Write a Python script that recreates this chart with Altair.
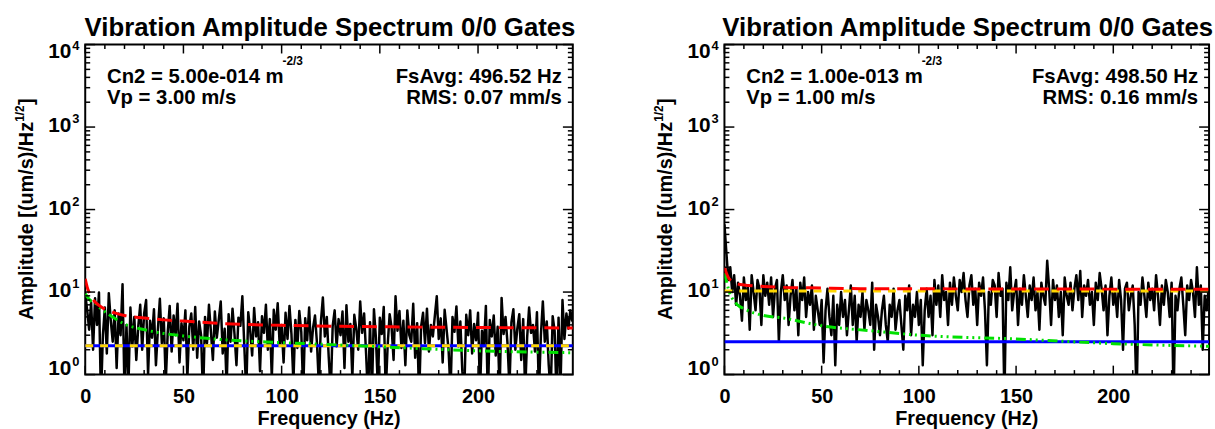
import altair as alt
import numpy as np
import pandas as pd

FONT = "Liberation Sans"

# ---------------- data ----------------
TITLE = "Vibration Amplitude Spectrum 0/0 Gates"
X_TITLE = "Frequency (Hz)"

L_FMAX = 248.26
R_FMAX = 249.25

# measured spectra, 1 Hz bins starting at 0 Hz
L_AMP = [
    9.5, 6.0, 3.5, 7.5, 2.0, 8.4, 4.0, 9.9, 0.5, 3.0,
    6.5, 1.8, 9.7, 4.5, 2.5, 6.0, 1.2, 5.5, 3.0, 12.4,
    0.6, 4.0, 0.7, 6.5, 2.2, 5.0, 1.5, 3.8, 7.0, 2.0,
    5.5, 8.0, 1.0, 4.5, 2.8, 6.2, 1.3, 3.5, 8.3, 2.4,
    4.8, 0.8, 3.2, 6.8, 1.9, 5.2, 3.0, 7.2, 1.4, 4.2,
    2.6, 6.0, 0.9, 3.8, 5.5, 2.0, 6.6, 1.6, 4.4, 3.0,
    0.5, 5.0, 2.4, 7.0, 3.3, 1.5, 5.8, 2.8, 4.6, 7.7,
    1.8, 3.6, 0.7, 5.4, 2.5, 6.3, 3.1, 1.3, 4.9, 3.9,
    8.9, 2.2, 0.6, 5.7, 3.4, 1.7, 6.4, 2.9, 4.3, 1.1,
    5.1, 3.2, 7.0, 2.0, 4.7, 0.9, 6.1, 3.5, 7.3, 2.3,
    4.0, 1.4, 5.6, 2.7, 6.8, 3.1, 0.8, 4.6, 2.1, 5.9,
    3.3, 0.6, 4.8, 2.6, 6.5, 1.9, 3.7, 5.2, 2.4, 0.7,
    4.4, 8.6, 2.9, 5.0, 1.6, 0.6, 3.9, 6.0, 2.2, 4.7,
    3.0, 5.8, 1.2, 6.9, 2.5, 4.1, 0.9, 5.3, 3.6, 2.0,
    7.7, 3.2, 5.5, 1.8, 0.5, 4.3, 0.6, 6.2, 2.8, 0.7,
    4.9, 3.1, 6.6, 0.6, 2.3, 5.4, 3.7, 1.5, 8.9, 3.4,
    5.9, 2.1, 4.5, 1.3, 6.0, 3.0, 2.5, 7.2, 1.6, 4.2,
    0.5, 3.8, 5.6, 2.4, 6.3, 1.9, 4.0, 2.9, 5.1, 8.9,
    2.7, 4.8, 1.4, 6.1, 3.5, 2.0, 0.6, 5.0, 3.3, 6.7,
    2.2, 4.4, 1.1, 0.6, 5.3, 3.0, 6.0, 1.8, 4.1, 2.6,
    5.6, 0.6, 3.4, 2.2, 6.8, 0.5, 4.6, 2.9, 5.2, 1.7,
    3.8, 0.6, 8.5, 3.1, 5.0, 2.4, 0.7, 4.3, 6.2, 2.0,
    3.6, 5.4, 1.5, 4.7, 0.6, 2.8, 6.5, 3.2, 4.0, 1.9,
    5.7, 0.6, 3.0, 7.7, 2.5, 4.4, 1.3, 0.6, 5.1, 3.4,
    0.5, 4.9, 0.7, 8.0, 2.7, 5.5, 3.6, 6.0, 4.4,
]

R_AMP = [
    66, 30, 14, 20, 10, 16, 7, 13, 9, 4.5,
    15, 8, 12, 3.5, 16, 10, 6, 14, 11, 4,
    16, 9, 13, 7, 15, 5, 11, 14, 2.5, 10,
    16, 8, 12, 4, 9, 14, 6, 11, 3, 13,
    8, 15, 5, 10, 7, 12, 3.5, 9, 6, 4,
    8, 1.4, 6, 11, 5, 3, 9, 1.3, 7, 4,
    10, 5, 8, 3, 6, 12, 4, 9, 2.5, 7,
    5, 10, 3.5, 8, 6, 4, 13, 2, 7, 5,
    3, 6, 9, 4, 2.5, 7, 5, 11, 3.5, 6,
    8, 4, 2, 9, 6, 12, 3, 7, 5, 10,
    4, 8, 1.3, 6, 11, 5, 9, 3, 14, 7,
    12, 5, 16, 8, 10, 4, 13, 7, 15, 9,
    6, 14, 10, 17, 8, 5, 12, 16, 7, 11,
    4, 13, 9, 15, 6, 1.3, 10, 7, 14, 12,
    5, 17, 9, 11, 0.5, 13, 8, 20, 6, 10,
    14, 4, 11, 7, 16, 9, 5, 12, 8, 15,
    6, 10, 3.5, 13, 9, 7, 24, 11, 4, 14,
    8, 12, 5, 10, 3, 15, 9, 7, 13, 6,
    11, 16, 8, 18, 5, 12, 9, 14, 7, 10,
    4, 13, 8, 17, 11, 6, 12, 3, 9, 15,
    7, 10, 5, 14, 8, 2, 11, 13, 6, 9,
    12, 4, 0.5, 10, 7, 15, 9, 5, 13, 8,
    11, 6, 16, 9, 4, 12, 7, 14, 10, 5,
    13, 0.5, 9, 6, 11, 15, 7, 3, 12, 8,
    14, 10, 5, 20, 7, 12, 2, 9, 6, 11,
]

# model curves (frequency, amplitude)
L_RED_F = [0, 1, 2, 3, 5, 7, 10, 15, 20, 30, 40, 50, 70, 100, 130, 160, 200, 248.26]
L_RED_V = [14.5, 11.5, 9.9, 8.8, 7.6, 6.9, 6.2, 5.6, 5.2, 4.85, 4.6, 4.45, 4.15, 3.95, 3.85, 3.78, 3.72, 3.67]
L_GREEN_F = [0, 1, 2, 3, 5, 7, 10, 15, 20, 30, 40, 50, 70, 100, 130, 160, 200, 248.26]
L_GREEN_V = [9.5, 8.8, 8.2, 7.8, 7.4, 6.6, 5.8, 4.8, 4.1, 3.5, 3.15, 2.94, 2.65, 2.44, 2.28, 2.12, 1.94, 1.84]
L_YELLOW = 2.23
L_BLUE = 2.23

R_RED_F = [0, 1, 2, 3, 5, 7, 10, 15, 20, 30, 50, 70, 100, 150, 200, 249.25]
R_RED_V = [20, 17, 15, 14, 13, 12.5, 12.2, 11.9, 11.7, 11.4, 11.2, 11.0, 10.95, 10.9, 10.85, 10.8]
R_GREEN_F = [0, 1, 2, 3, 5, 7, 10, 15, 20, 30, 50, 75, 100, 150, 200, 249.25]
R_GREEN_V = [17, 13.5, 11, 9.3, 7.8, 6.9, 6.3, 5.6, 5.2, 4.85, 3.9, 3.4, 3.0, 2.7, 2.37, 2.2]
R_YELLOW = 10.3
R_BLUE = 2.5

L_TEXT = ["Cn2 = 5.00e-014 m", "-2/3", "Vp = 3.00 m/s", "FsAvg: 496.52 Hz", "RMS: 0.07 mm/s"]
R_TEXT = ["Cn2 = 1.00e-013 m", "-2/3", "Vp = 1.00 m/s", "FsAvg: 498.50 Hz", "RMS: 0.16 mm/s"]

X_MAJOR = [0, 50, 100, 150, 200]
X_MINOR = [10, 20, 30, 40, 60, 70, 80, 90, 110, 120, 130, 140, 160, 170, 180, 190, 210, 220, 230, 240]
Y_MAJOR = [1, 10, 100, 1000, 10000]
Y_MINOR = [m * 10 ** k for k in range(4) for m in range(2, 10)]
Y_EXP = ["0", "1", "2", "3", "4"]

H = 333


def panel(amp, fmax, red_f, red_v, green_f, green_v, yellow_v, blue_v, texts, W):
    xs = alt.Scale(domain=[0, fmax], nice=False, zero=False)
    ys = alt.Scale(type="log", domain=[1, 10000], nice=False)
    xaxis = alt.Axis(values=X_MAJOR, title=None, ticks=False, domain=False, grid=False,
                     labelFont=FONT, labelFontSize=20, labelFontWeight="bold", labelColor="black",
                     labelPadding=12, labelFlush=False, labelOverlap=False)
    X = alt.X("f:Q", scale=xs, axis=xaxis)
    Y = alt.Y("a:Q", scale=ys, axis=None)

    spec = pd.DataFrame({"f": np.arange(len(amp)), "a": amp})
    black = alt.Chart(spec).mark_line(color="black", strokeWidth=2.5, clip=True,
                                      strokeJoin="round").encode(x=X, y=Y)
    blue = alt.Chart(pd.DataFrame({"f": [0, fmax], "a": [blue_v, blue_v]})).mark_line(
        color="#0000ff", strokeWidth=3, clip=True).encode(x=X, y=Y)
    yellow = alt.Chart(pd.DataFrame({"f": [0, fmax], "a": [yellow_v, yellow_v]})).mark_line(
        color="#ffd700", strokeWidth=3, strokeDash=[8, 7], clip=True).encode(x=X, y=Y)
    green = alt.Chart(pd.DataFrame({"f": green_f, "a": green_v})).mark_line(
        color="#00e000", strokeWidth=3, strokeDash=[10, 4, 2, 4, 2, 4, 2, 4], clip=True,
        interpolate="monotone").encode(x=X, y=Y)
    red = alt.Chart(pd.DataFrame({"f": red_f, "a": red_v})).mark_line(
        color="#ff0000", strokeWidth=3, strokeDash=[15, 8], clip=True,
        interpolate="monotone").encode(x=X, y=Y)

    # inward ticks
    ymaj = pd.DataFrame({"a": Y_MAJOR})
    ymin = pd.DataFrame({"a": Y_MINOR})
    xmaj = pd.DataFrame({"f": X_MAJOR})
    xmin = pd.DataFrame({"f": X_MINOR})
    rk = dict(color="black", strokeWidth=1.5)
    ticks = [
        alt.Chart(ymaj).mark_rule(**rk).encode(y=Y, x=alt.value(0), x2=alt.value(10)),
        alt.Chart(ymin).mark_rule(**rk).encode(y=Y, x=alt.value(0), x2=alt.value(5)),
        alt.Chart(ymaj).mark_rule(**rk).encode(y=Y, x=alt.value(W), x2=alt.value(W - 10)),
        alt.Chart(ymin).mark_rule(**rk).encode(y=Y, x=alt.value(W), x2=alt.value(W - 5)),
        alt.Chart(xmaj).mark_rule(**rk).encode(x=X, y=alt.value(H), y2=alt.value(H - 9)),
        alt.Chart(xmin).mark_rule(**rk).encode(x=X, y=alt.value(H), y2=alt.value(H - 4.5)),
        alt.Chart(xmaj).mark_rule(**rk).encode(x=X, y=alt.value(0), y2=alt.value(9)),
        alt.Chart(xmin).mark_rule(**rk).encode(x=X, y=alt.value(0), y2=alt.value(4.5)),
    ]

    # y tick labels 10^k
    lab = pd.DataFrame({"a": Y_MAJOR, "e": Y_EXP, "t": ["10"] * len(Y_MAJOR)})
    lab_mid = lab.iloc[1:4]
    lab_bot = lab.iloc[0:1]
    lab_top = lab.iloc[4:5]
    tk = dict(font=FONT, fontWeight="bold", color="black")
    labels = []
    for d, off in ((lab_mid, -1), (lab_bot, -6), (lab_top, 8)):
        labels.append(alt.Chart(d).mark_text(align="right", baseline="middle", fontSize=21, dy=off, **tk)
                      .encode(y=Y, x=alt.value(-14), text="t:N"))
        labels.append(alt.Chart(d).mark_text(align="left", baseline="middle", fontSize=13, dy=off - 7, **tk)
                      .encode(y=Y, x=alt.value(-13), text="e:N"))

    one = pd.DataFrame({"k": [0]})

    def txt(s, x, y, size=20.5, align="left", angle=0):
        kw = dict(text=s, fontSize=size, align=align, baseline="alphabetic", **tk)
        if angle:
            kw["angle"] = angle
        return alt.Chart(one).mark_text(**kw).encode(x=alt.value(x), y=alt.value(y))

    annots = [
        txt(TITLE, W / 2 + 1, -9, size=26, align="center"),
        txt(texts[0], 22, 39),
        txt(texts[1], 199, 21, size=12),
        txt(texts[2], 22, 60),
        txt(texts[3], W - 11, 39, align="right"),
        txt(texts[4], W - 11, 60, align="right"),
        txt(X_TITLE, W / 2, H + 50.5, size=20, align="center"),
        # y axis title
        txt("Amplitude [(um/s)/Hz", -53, 278, size=20, angle=270),
        txt("1/2", -62, 78, size=12, angle=270),
        txt("]", -53, 61, size=20, angle=270),
    ]

    return alt.layer(black, blue, yellow, green, red, *ticks, *labels, *annots).properties(
        width=W, height=H)


left = panel(L_AMP, L_FMAX, L_RED_F, L_RED_V, L_GREEN_F, L_GREEN_V, L_YELLOW, L_BLUE, L_TEXT, 492)
right = panel(R_AMP, R_FMAX, R_RED_F, R_RED_V, R_GREEN_F, R_GREEN_V, R_YELLOW, R_BLUE, R_TEXT, 489)

chart = alt.hconcat(left, right, spacing=75).properties(
    padding={"left": 13, "top": 12, "right": 0, "bottom": 0},
    background="white",
).configure_view(stroke="black", strokeWidth=2)

chart.save("out.html", embed_options={"renderer": "svg", "actions": False})
